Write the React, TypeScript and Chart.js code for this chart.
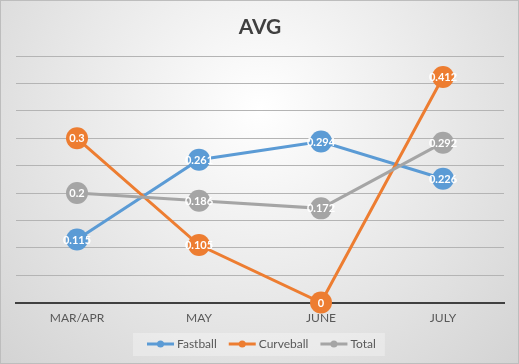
import React, { useEffect, useRef } from 'react';
import { Chart, registerables } from 'chart.js';
Chart.register(...registerables);

const categories = ['MAR/APR', 'MAY', 'JUNE', 'JULY'];
const fastball = [0.115, 0.261, 0.294, 0.226];
const curveball = [0.3, 0.105, 0, 0.412];
const total = [0.2, 0.186, 0.172, 0.292];
const seriesNames = ['Fastball', 'Curveball', 'Total'];
const seriesColors = ['#5B9BD5', '#ED7D31', '#A5A5A5'];
const yMin = 0;
const yMax = 0.45;
const yStep = 0.05;
const titleText = 'AVG';

const bgPlugin = {
  id: 'bgPlugin',
  beforeDraw(chart: any) {
    const { ctx, width, height } = chart;
    ctx.save();
    const g = ctx.createRadialGradient(width / 2, height * 0.3, 0, width / 2, height * 0.3, width * 0.72);
    g.addColorStop(0, '#ffffff');
    g.addColorStop(1, '#d2d2d2');
    ctx.fillStyle = g;
    ctx.fillRect(0, 0, width, height);
    ctx.strokeStyle = '#bdbdbd';
    ctx.lineWidth = 1;
    ctx.strokeRect(0.5, 0.5, width - 1, height - 1);
    ctx.restore();
  },
};

const legendPlugin = {
  id: 'customLegend',
  afterDraw(chart: any) {
    const { ctx, width } = chart;
    ctx.save();
    ctx.font = '12px Lato';
    ctx.textBaseline = 'middle';
    const iconW = 27;
    const gapIconText = 3;
    const gapItems = 12;
    const items = chart.data.datasets.map((ds: any) => ({
      label: ds.label,
      color: ds.borderColor,
      tw: ctx.measureText(ds.label).width,
    }));
    const totalW = items.reduce((s: number, it: any) => s + iconW + gapIconText + it.tw, 0) + gapItems * (items.length - 1);
    let x = Math.round(width / 2 - totalW / 2) + 2;
    const cy = 344;
    ctx.fillStyle = 'rgba(255,255,255,0.3)';
    ctx.fillRect(x - 14, cy - 11, totalW + 23, 23);
    items.forEach((it: any) => {
      ctx.strokeStyle = it.color;
      ctx.lineWidth = 3;
      ctx.beginPath();
      ctx.moveTo(x, cy);
      ctx.lineTo(x + iconW, cy);
      ctx.stroke();
      ctx.fillStyle = it.color;
      ctx.beginPath();
      ctx.arc(x + iconW / 2, cy, 3.5, 0, Math.PI * 2);
      ctx.fill();
      ctx.fillStyle = '#595959';
      ctx.fillText(it.label, x + iconW + gapIconText, cy);
      x += iconW + gapIconText + it.tw + gapItems;
    });
    ctx.restore();
  },
};

const labelPlugin = {
  id: 'labelPlugin',
  afterDatasetsDraw(chart: any) {
    const { ctx } = chart;
    ctx.save();
    ctx.fillStyle = '#ffffff';
    ctx.font = 'bold 11px Lato';
    ctx.textAlign = 'center';
    ctx.textBaseline = 'middle';
    chart.data.datasets.forEach((ds: any, i: number) => {
      const meta = chart.getDatasetMeta(i);
      meta.data.forEach((pt: any, j: number) => {
        ctx.fillText(String(ds.data[j]), pt.x, pt.y + 0.5);
      });
    });
    ctx.restore();
  },
};

export default function App() {
  const ref = useRef<HTMLCanvasElement>(null);
  useEffect(() => {
    const seriesData = [fastball, curveball, total];
    const chart = new Chart(ref.current!, {
      type: 'line',
      data: {
        labels: categories,
        datasets: seriesNames.map((name, i) => ({
          label: name,
          data: seriesData[i],
          borderColor: seriesColors[i],
          backgroundColor: seriesColors[i],
          pointBackgroundColor: seriesColors[i],
          pointBorderWidth: 0,
          pointRadius: 11,
          pointHoverRadius: 11,
          borderWidth: 3,
          pointStyle: 'circle',
          clip: false as any,
          order: 2 - i,
          tension: 0,
        })),
      },
      options: {
        animation: false,
        responsive: false,
        maintainAspectRatio: false,
        events: [],
        layout: { padding: { left: 16, right: 15, top: 0, bottom: 0 } },
        scales: {
          x: {
            offset: true,
            grid: { display: false, drawTicks: false },
            border: { display: true, color: '#404040', width: 2 },
            ticks: { color: '#595959', font: { family: 'Lato', size: 12 }, padding: 8 },
            afterFit: (scale: any) => {
              scale.height = 61.5;
            },
          },
          y: {
            min: yMin,
            max: yMax,
            ticks: { display: false, stepSize: yStep },
            grid: { color: '#b4b4b4', lineWidth: 1, drawTicks: false },
            border: { display: false },
          },
        },
        plugins: {
          title: {
            display: true,
            text: titleText,
            color: '#404040',
            font: { family: 'Lato', size: 21, weight: 'bold' },
            padding: { top: 15, bottom: 16 },
          },
          legend: { display: false },
          tooltip: { enabled: false },
        },
      },
      plugins: [bgPlugin, labelPlugin, legendPlugin],
    });
    return () => chart.destroy();
  }, []);
  return (
    <div style={{ position: 'absolute', left: 0, top: 0, width: 519, height: 364 }}>
      <canvas ref={ref} width={519} height={364} style={{ display: 'block', width: 519, height: 364 }} />
    </div>
  );
}
